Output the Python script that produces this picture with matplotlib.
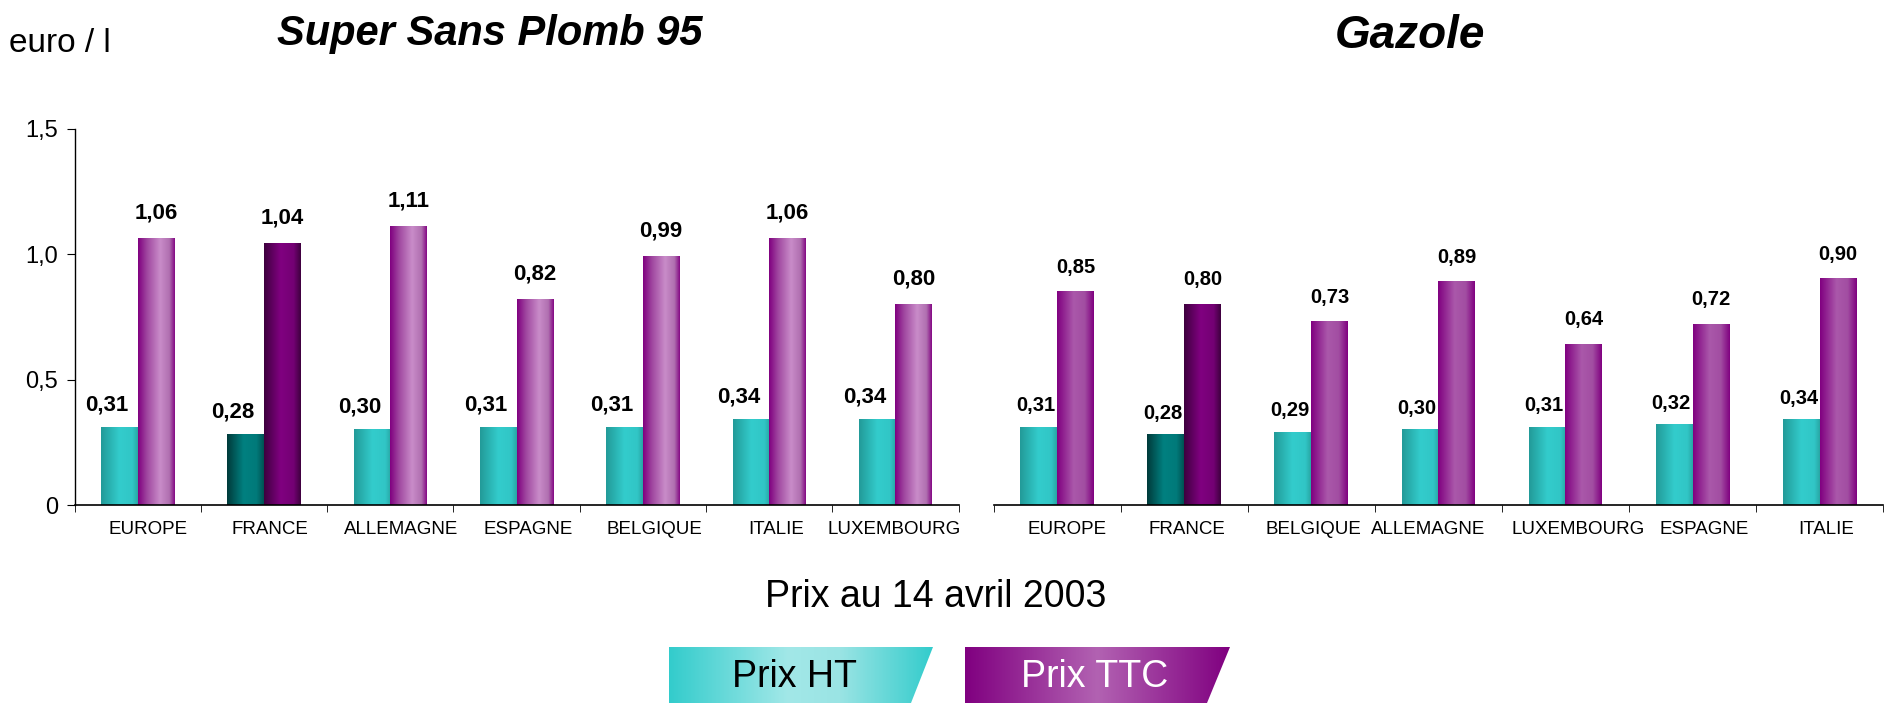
import matplotlib
matplotlib.use('Agg')
import matplotlib.pyplot as plt
import numpy as np
from matplotlib import font_manager
from matplotlib.colors import LinearSegmentedColormap
from matplotlib.patches import Polygon

plt.rcParams['font.family'] = ['Liberation Sans', 'DejaVu Sans']
installed = {f.name for f in font_manager.fontManager.ttflist}
narrow = 'Liberation Sans Narrow' if 'Liberation Sans Narrow' in installed else 'Liberation Sans'

# data (euro / litre)
sp95_pays = ['EUROPE', 'FRANCE', 'ALLEMAGNE', 'ESPAGNE', 'BELGIQUE', 'ITALIE', 'LUXEMBOURG']
sp95_ht = [0.31, 0.28, 0.30, 0.31, 0.31, 0.34, 0.34]
sp95_ttc = [1.06, 1.04, 1.11, 0.82, 0.99, 1.06, 0.80]

gazole_pays = ['EUROPE', 'FRANCE', 'BELGIQUE', 'ALLEMAGNE', 'LUXEMBOURG', 'ESPAGNE', 'ITALIE']
gazole_ht = [0.31, 0.28, 0.29, 0.30, 0.31, 0.32, 0.34]
gazole_ttc = [0.85, 0.80, 0.73, 0.89, 0.64, 0.72, 0.90]

yticks = [0, 0.5, 1.0, 1.5]
ytick_labels = ['0', '0,5', '1,0', '1,5']

# the original's category names are not quite centred under their bars
sp95_nudge = [0.08, 0.045, 0.09, 0.09, 0.095, 0.055, -0.01]
gazole_nudge = [0.08, 0.02, 0.02, -0.08, 0.1, 0.09, 0.05]


def cmap(name, stops):
    return LinearSegmentedColormap.from_list(name, stops)


ht_cm = cmap('ht', [(0, '#229a98'), (0.5, '#33cccc'), (0.85, '#31c6c6'), (1, '#28a6a4')])
ht_fr_cm = cmap('htfr', [(0, '#003a3a'), (0.45, '#008080'), (0.8, '#007a7a'), (1, '#005252')])
ttc_fr_cm = cmap('ttcfr', [(0, '#3e003e'), (0.45, '#800080'), (0.8, '#740074'), (1, '#3e003e')])
ttc_left_cm = cmap('ttcl', [(0, '#800080'), (0.25, '#a048a0'), (0.6, '#c98cc9'), (0.85, '#b070b0'), (1, '#840884')])
ttc_right_cm = cmap('ttcr', [(0, '#800080'), (0.45, '#aa58aa'), (0.75, '#a24ea2'), (1, '#800080')])

grad = np.linspace(0, 1, 256).reshape(1, -1)


def shade(ax, bars, cms):
    for b, cm in zip(bars, cms):
        x, y, w, h = b.get_x(), b.get_y(), b.get_width(), b.get_height()
        ax.imshow(grad, cmap=cm, extent=(x, x + w, y, y + h), aspect='auto',
                  interpolation='bilinear', zorder=2)
        b.set_facecolor('none')
        b.set_edgecolor('none')


def panel(ax, pays, ht, ttc, ttc_cm, show_y, ht_dx, lab_font, lab_size, nudge):
    x = np.arange(len(pays))
    w = 0.29
    b1 = ax.bar(x - w / 2, ht, w)
    b2 = ax.bar(x + w / 2, ttc, w)
    shade(ax, b1, [ht_fr_cm if p == 'FRANCE' else ht_cm for p in pays])
    shade(ax, b2, [ttc_fr_cm if p == 'FRANCE' else ttc_cm for p in pays])
    for xi, v in zip(x, ht):
        ax.annotate(f'{v:.2f}'.replace('.', ','), (xi - w / 2, v), xytext=(ht_dx, 9),
                    textcoords='offset points', ha='center', va='bottom',
                    fontsize=lab_size, fontweight='bold', family=lab_font)
    for xi, v in zip(x, ttc):
        ax.annotate(f'{v:.2f}'.replace('.', ','), (xi + w / 2, v), xytext=(0, 11),
                    textcoords='offset points', ha='center', va='bottom',
                    fontsize=lab_size, fontweight='bold', family=lab_font)
    ax.set_xlim(-0.5, len(pays) - 0.5)
    ax.set_ylim(0, 1.5)
    ax.set_xticks(x + np.array(nudge))
    ax.set_xticklabels(pays, fontsize=13.5)
    ax.set_xticks(np.arange(len(pays) + 1) - 0.5, minor=True)
    ax.tick_params(axis='x', which='major', length=0, pad=11)
    ax.tick_params(axis='x', which='minor', length=5, direction='out')
    for s in ['top', 'right']:
        ax.spines[s].set_visible(False)
    ax.spines['bottom'].set_linewidth(1.2)
    if show_y:
        ax.set_yticks(yticks)
        ax.set_yticklabels(ytick_labels, fontsize=17)
        ax.tick_params(axis='y', length=6, direction='out', pad=6)
        ax.spines['left'].set_linewidth(1.0)
    else:
        ax.set_yticks([])
        ax.spines['left'].set_visible(False)


fig = plt.figure(figsize=(18.87, 7.03), dpi=100)
ax1 = fig.add_axes([0.0395, 0.281, 0.4685, 0.536])
ax2 = fig.add_axes([0.5265, 0.281, 0.4715, 0.536])
panel(ax1, sp95_pays, sp95_ht, sp95_ttc, ttc_left_cm, True, -9, 'Liberation Sans', 16, sp95_nudge)
panel(ax2, gazole_pays, gazole_ht, gazole_ttc, ttc_right_cm, False, -2,
      narrow, 16.5 if narrow != 'Liberation Sans' else 14.5, gazole_nudge)

fig.text(0.005, 0.938, 'euro / l', fontsize=24, va='center', ha='left')
fig.text(0.2596, 0.952, 'Super Sans Plomb 95', fontsize=30, fontweight='bold',
         fontstyle='italic', ha='center', va='center')
fig.text(0.7474, 0.949, 'Gazole', fontsize=33, fontweight='bold',
         fontstyle='italic', ha='center', va='center')
fig.text(0.496, 0.151, 'Prix au 14 avril 2003', fontsize=27, ha='center', va='center')

# legend boxes (slanted right edge, horizontal gradient)
ov = fig.add_axes([0, 0, 1, 1])
ov.set_xlim(0, 1887)
ov.set_ylim(703, 0)
ov.axis('off')
leg_ht_cm = cmap('lht', [(0, '#33cccc'), (0.45, '#a2e8e8'), (0.65, '#9ae4e4'), (1, '#33cccc')])
leg_ttc_cm = cmap('lttc', [(0, '#800080'), (0.5, '#b262b2'), (1, '#800080')])
for (x0, x1, x2), lcm, label, col, tx in [((669, 933, 911), leg_ht_cm, 'Prix HT', 'black', 794),
                                           ((965, 1230, 1207), leg_ttc_cm, 'Prix TTC', 'white', 1095)]:
    poly = Polygon([(x0, 647), (x1, 647), (x2, 703), (x0, 703)], closed=True,
                   facecolor='none', edgecolor='none')
    ov.add_patch(poly)
    im = ov.imshow(grad, cmap=lcm, extent=(x0, x1, 703, 647), aspect='auto', interpolation='bilinear')
    im.set_clip_path(poly)
    ov.text(tx, 677, label, fontsize=27, color=col, ha='center', va='center')
ov.set_xlim(0, 1887)
ov.set_ylim(703, 0)

fig.savefig('out.png', dpi=100)
